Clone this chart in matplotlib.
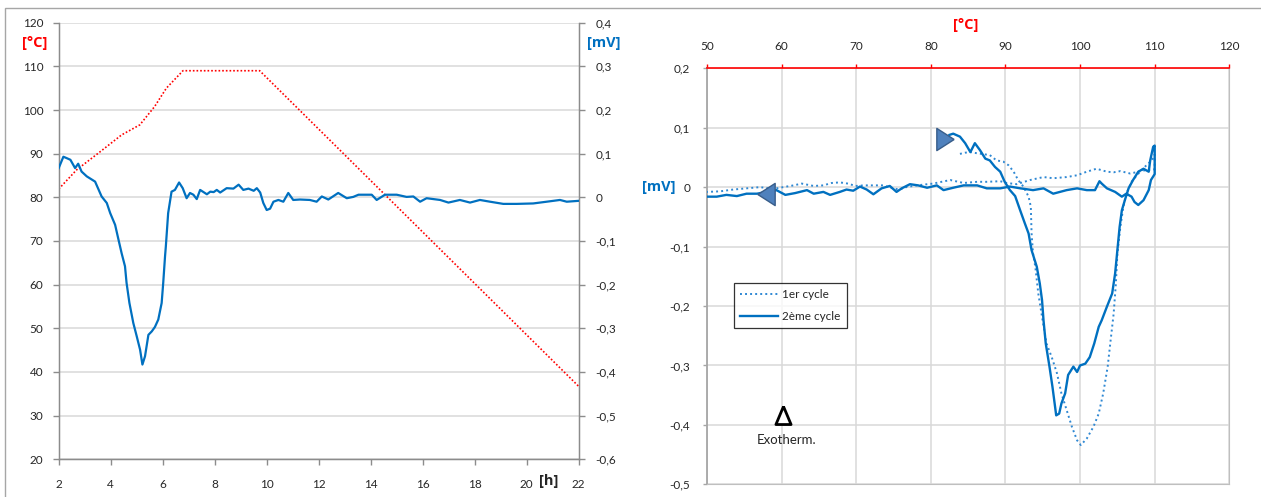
import matplotlib
matplotlib.use("Agg")
import matplotlib.pyplot as plt
from matplotlib.patches import Rectangle
from matplotlib.ticker import FixedLocator, FuncFormatter

plt.rcParams['font.family'] = ['Lato', 'DejaVu Sans']

# ---- left chart: temperature programme and DSC signal vs time ----
temp_t = [2, 2.69, 3.52, 4.42, 5.12, 5.69, 6.14, 6.78, 9.73, 22]
temp_c = [81.9, 86.3, 90.1, 94.3, 96.6, 100.8, 105, 109, 109, 36.7]

dsc_t = [2.0, 2.18, 2.3, 2.45, 2.63, 2.75, 2.88, 3.08, 3.4, 3.65, 3.85, 3.98,
         4.17, 4.3, 4.42, 4.55, 4.61, 4.72, 4.87, 5.0, 5.13, 5.22, 5.32, 5.45,
         5.58, 5.7, 5.83, 5.96, 6.02, 6.09, 6.12, 6.21, 6.34, 6.47, 6.63, 6.77,
         6.92, 7.05, 7.18, 7.31, 7.44, 7.7, 7.83, 7.96, 8.08, 8.21, 8.46, 8.72,
         8.92, 9.1, 9.3, 9.5, 9.62, 9.75, 9.87, 10.0, 10.13, 10.26, 10.45, 10.64,
         10.83, 11.02, 11.28, 11.66, 11.92, 12.12, 12.37, 12.75, 13.08, 13.33,
         13.53, 14.04, 14.23, 14.55, 15.0, 15.38, 15.64, 15.9, 16.15, 16.67,
         16.99, 17.43, 17.82, 18.2, 18.59, 19.1, 19.62, 20.25, 20.77, 21.28,
         21.54, 22.0]
dsc_mv = [0.067, 0.093, 0.090, 0.086, 0.067, 0.077, 0.059, 0.048, 0.036, 0.002,
          -0.013, -0.036, -0.063, -0.097, -0.128, -0.158, -0.196, -0.242, -0.288,
          -0.318, -0.349, -0.383, -0.364, -0.315, -0.307, -0.297, -0.280, -0.242,
          -0.196, -0.135, -0.113, -0.036, 0.013, 0.017, 0.034, 0.021, -0.002,
          0.010, 0.006, -0.004, 0.017, 0.007, 0.013, 0.012, 0.017, 0.011, 0.021,
          0.020, 0.029, 0.017, 0.020, 0.015, 0.021, 0.011, -0.013, -0.029, -0.026,
          -0.010, -0.006, -0.010, 0.010, -0.006, -0.005, -0.006, -0.010, 0.002,
          -0.005, 0.010, -0.002, 0.001, 0.006, 0.006, -0.006, 0.006, 0.006, 0.001,
          0.002, -0.010, -0.002, -0.006, -0.012, -0.006, -0.012, -0.006, -0.010,
          -0.015, -0.015, -0.014, -0.010, -0.006, -0.010, -0.008]

left_xticks = [2, 4, 6, 8, 10, 12, 14, 16, 18, 20, 22]
left_yticks = [20, 30, 40, 50, 60, 70, 80, 90, 100, 110, 120]
left_y2ticks = [-0.6, -0.5, -0.4, -0.3, -0.2, -0.1, 0, 0.1, 0.2, 0.3, 0.4]

# ---- right chart: DSC signal vs temperature ----
c1_T = [83.9, 84.6, 85.3, 86.2, 87.9, 88.8, 89.7, 90.4, 91.1, 91.7, 92.4, 93.1,
        93.4, 93.5, 93.7, 94.0, 94.4, 94.9, 95.5, 96.2, 96.9, 97.5, 98.2, 98.9,
        99.6, 100.1, 100.9, 101.8, 102.5, 103.1, 103.7, 104.1, 104.5, 104.8,
        105.0, 105.4, 105.8, 106.2, 106.9, 107.6, 108.3, 108.9, 109.6, 110.0,
        110.0, 108.5, 107.5, 106.7, 105.4, 104.5, 103.6, 102.2, 100.9, 99.6,
        98.2, 96.4, 95.1, 93.3, 91.5, 90.2, 89.3, 87.5, 86.2, 84.4, 82.6, 80.3,
        78.1, 76.7, 75.8, 74.9, 73.6, 72.3, 71.0, 69.9, 68.9, 67.8, 66.7, 65.6,
        64.3, 62.7, 61.6, 60.2, 58.9, 57.1, 55.3, 53.5, 51.8, 50.0]
c1_mv = [0.056, 0.058, 0.059, 0.057, 0.054, 0.045, 0.043, 0.037, 0.026, 0.012,
         0.001, -0.016, -0.033, -0.078, -0.112, -0.134, -0.179, -0.218, -0.263,
         -0.286, -0.313, -0.347, -0.375, -0.403, -0.426, -0.434, -0.423, -0.403,
         -0.381, -0.347, -0.302, -0.257, -0.213, -0.162, -0.112, -0.067, -0.033,
         -0.011, 0.009, 0.020, 0.029, 0.037, 0.045, 0.055,
         0.030, 0.028, 0.025, 0.023, 0.027, 0.025, 0.026, 0.031, 0.026, 0.020,
         0.017, 0.015, 0.017, 0.012, 0.005, 0.007, 0.010, 0.009, 0.009, 0.007,
         0.012, 0.006, 0.003, 0.000, -0.004, -0.002, 0.003, 0.003, 0.003, 0.002,
         0.006, 0.008, 0.007, 0.003, 0.002, 0.006, 0.003, 0.000, -0.003, 0.000,
         -0.002, -0.004, -0.007, -0.008]

c2_T = [82.5, 83.0, 83.9, 84.6, 85.3, 85.9, 86.6, 87.3, 87.9, 88.6, 89.3, 89.9,
        90.6, 91.3, 92.0, 92.6, 93.1, 93.5, 94.2, 94.6, 94.9, 95.1, 95.4, 95.9,
        96.3, 96.8, 97.2, 97.5, 98.0, 98.4, 99.1, 99.6, 100.0, 100.7, 101.3,
        101.9, 102.5, 102.9, 103.6, 104.3, 104.7, 105.0, 105.3, 105.6, 106.0,
        106.5, 107.1, 107.8, 108.5, 109.2, 109.4, 109.8,
        110.0, 110.0, 109.5, 109.2, 108.5, 107.8, 107.3, 106.9, 106.2, 105.6,
        104.7, 103.6, 102.9, 102.6, 102.0, 100.9, 99.6, 98.2, 96.4, 95.1, 93.7,
        92.0, 90.6, 89.3, 87.5, 86.2, 84.4, 83.0, 81.7, 80.8, 79.5, 78.3, 77.2,
        76.1, 75.4, 74.5, 73.4, 72.3, 71.4, 70.5, 69.6, 68.7, 67.8, 66.5, 65.6,
        64.3, 63.4, 61.8, 60.5, 59.3, 56.7, 55.3, 54.0, 52.6, 51.3, 50.0]
c2_mv = [0.088, 0.090, 0.085, 0.074, 0.059, 0.074, 0.062, 0.048, 0.045, 0.034,
         0.026, 0.009, -0.005, -0.015, -0.040, -0.061, -0.078, -0.106, -0.134,
         -0.162, -0.190, -0.224, -0.263, -0.302, -0.336, -0.384, -0.381, -0.364,
         -0.347, -0.316, -0.302, -0.311, -0.300, -0.297, -0.286, -0.263, -0.235,
         -0.224, -0.201, -0.179, -0.145, -0.106, -0.067, -0.039, -0.022, -0.002,
         0.012, 0.026, 0.031, 0.026, 0.045, 0.068,
         0.070, 0.022, 0.012, -0.005, -0.022, -0.030, -0.025, -0.016, -0.011,
         -0.016, -0.008, -0.002, 0.006, 0.010, -0.005, -0.005, -0.002, -0.005,
         -0.011, -0.002, -0.005, -0.002, 0.001, -0.002, -0.002, 0.003, 0.003,
         -0.001, -0.005, 0.003, -0.001, 0.003, 0.005, -0.002, -0.008, 0.002,
         -0.002, -0.012, -0.004, 0.001, -0.006, -0.004, -0.008, -0.013, -0.008,
         -0.011, -0.005, -0.010, -0.013, -0.005, -0.011, -0.011, -0.015, -0.013,
         -0.016, -0.016]

right_xticks = [50, 60, 70, 80, 90, 100, 110, 120]
right_yticks = [-0.5, -0.4, -0.3, -0.2, -0.1, 0, 0.1, 0.2]

# direction arrows (heating / cooling) and exotherm marker
arrow_cool = (57.9, -0.012)
arrow_heat = (81.9, 0.081)
exo_pos = (60.2, -0.383)

BLUE = '#0070c0'
BLUE_DOT = '#2f88d3'
RED = '#ff0000'
GRID = '#d9d9d9'
SPINE = '#8c8c8c'
TXT = '#262626'
BOLD = dict(fontsize=10.5, fontweight='bold', family=['Open Sans', 'DejaVu Sans'],
            ha='center', va='center')


def comma(v, pos):
    s = ('%g' % round(v, 3)).replace('.', ',')
    return s


fig = plt.figure(figsize=(12.61, 4.97), dpi=100)
fig.patches.append(Rectangle((5 / 1261, -0.01), 1.0, 1.0 - 8.3 / 497 + 0.01,
                             transform=fig.transFigure, fill=False,
                             edgecolor='#a6a6a6', lw=1.0))

# ---------- left ----------
ax = fig.add_axes([0.04655, 0.07586, 0.41237, 0.87847])
ax.plot(temp_t, temp_c, color=RED, lw=1.2, ls=(0, (1, 1.2)), zorder=3)
ax.set_xlim(2, 22)
ax.set_ylim(20, 120)
ax.xaxis.set_major_locator(FixedLocator(left_xticks))
ax.yaxis.set_major_locator(FixedLocator(left_yticks))
ax.grid(axis='y', color=GRID, lw=1.1)
ax.set_axisbelow(True)
ax.spines['top'].set_visible(False)
for s in ['left', 'bottom', 'right']:
    ax.spines[s].set_color(SPINE)
    ax.spines[s].set_linewidth(1.0)
ax.tick_params(axis='y', direction='out', length=4, width=1, color=SPINE,
               labelsize=8.5, labelcolor=TXT, pad=7)
ax.tick_params(axis='x', direction='out', length=4, width=1, color=SPINE,
               labelsize=8.5, labelcolor=TXT, pad=10)

ax2 = ax.twinx()
ax2.plot(dsc_t, dsc_mv, color=BLUE, lw=1.6, zorder=4)
ax2.set_ylim(-0.6, 0.4)
ax2.yaxis.set_major_locator(FixedLocator(left_y2ticks))
ax2.yaxis.set_major_formatter(FuncFormatter(comma))
ax2.spines['top'].set_visible(False)
for s in ['left', 'bottom', 'right']:
    ax2.spines[s].set_color(SPINE)
ax2.tick_params(axis='y', direction='out', length=4, width=1, color=SPINE,
                labelsize=8.5, labelcolor=TXT, pad=8)

fig.text(35 / 1261, 1 - 42.7 / 497, '[°C]', color=RED, **BOLD)
fig.text(604 / 1261, 1 - 43 / 497, '[mV]', color=BLUE, **BOLD)
fig.text(549 / 1261, 1 - 481 / 497, '[h]', color=TXT, **BOLD)

# ---------- right ----------
bx = fig.add_axes([0.56067, 0.02555, 0.41419, 0.83703])
bx.plot(c1_T, c1_mv, color=BLUE_DOT, lw=1.4, ls=(0, (1, 1.6)),
        label='1er cycle', zorder=3)
bx.plot(c2_T, c2_mv, color=BLUE, lw=1.7, label='2ème cycle', zorder=4)
bx.set_xlim(50, 120)
bx.set_ylim(-0.5, 0.2)
bx.xaxis.set_major_locator(FixedLocator(right_xticks))
bx.yaxis.set_major_locator(FixedLocator(right_yticks))
bx.yaxis.set_major_formatter(FuncFormatter(comma))
bx.xaxis.tick_top()
bx.grid(True, color=GRID, lw=1.1)
bx.set_axisbelow(True)
bx.spines['top'].set_color(RED)
bx.spines['top'].set_linewidth(1.2)
for s in ['left', 'bottom', 'right']:
    bx.spines[s].set_color('#bfbfbf')
bx.spines['left'].set_color('#a6a6a6')
bx.spines['left'].set_linewidth(1.3)
bx.tick_params(axis='x', direction='out', length=3, width=1, color=RED,
               labelsize=8.5, labelcolor=TXT, pad=9)
bx.tick_params(axis='y', direction='out', length=3, width=1, color='#a6a6a6',
               labelsize=8.5, labelcolor=TXT, pad=9)

tri_left = [(-0.78, 0), (0.78, 1), (0.78, -1), (-0.78, 0)]
tri_right = [(0.78, 0), (-0.78, 1), (-0.78, -1), (0.78, 0)]
tri_up = [(0, 1), (-0.84, -1), (0.84, -1), (0, 1)]
bx.plot([arrow_cool[0]], [arrow_cool[1]], marker=tri_left, ms=16,
        mfc='#4f81bd', mec='#385d8a', mew=1, ls='none', zorder=6)
bx.plot([arrow_heat[0]], [arrow_heat[1]], marker=tri_right, ms=16,
        mfc='#4f81bd', mec='#385d8a', mew=1, ls='none', zorder=6)
bx.plot([exo_pos[0]], [exo_pos[1]], marker=tri_up, ms=13, mfc='white',
        mec='black', mew=2, ls='none', zorder=6)
bx.text(exo_pos[0] + 0.5, exo_pos[1] - 0.042, 'Exotherm.', fontsize=9.5,
        ha='center', va='center', color=TXT)

leg = bx.legend(loc='upper left', bbox_to_anchor=(0.0517, 0.4832),
                borderaxespad=0, fontsize=8.5, frameon=True, fancybox=False,
                handlelength=3.2, handletextpad=0.4, labelspacing=0.9,
                borderpad=0.5, labelcolor=TXT)
leg.get_frame().set_edgecolor('black')
leg.get_frame().set_linewidth(0.9)

fig.text(966 / 1261, 1 - 25 / 497, '[°C]', color=RED, **BOLD)
fig.text(659 / 1261, 1 - 187 / 497, '[mV]', color=BLUE, **BOLD)

fig.savefig('out.png', dpi=100)
